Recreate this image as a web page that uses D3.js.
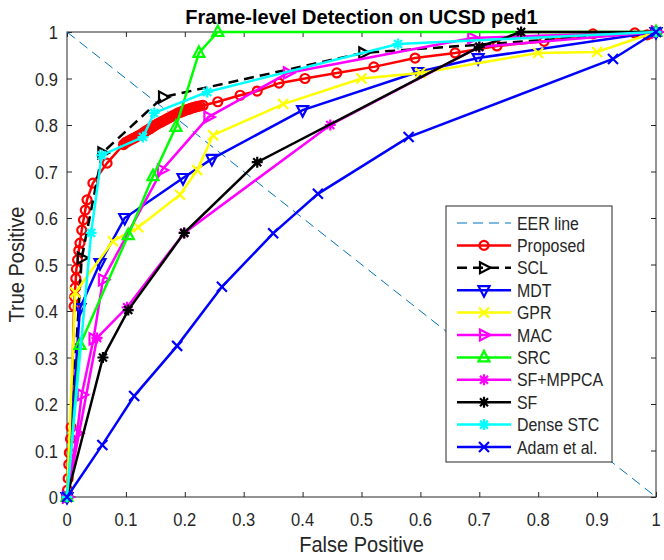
<!DOCTYPE html>
<html>
<head>
<meta charset="utf-8">
<script src="https://cdn.jsdelivr.net/npm/d3@7"></script>
<style>
  body { margin: 0; background: #fff; }
  svg text { font-family: "Liberation Sans", Arial, sans-serif; fill: #262626; }
</style>
</head>
<body>
<svg id="chart" width="664" height="560"></svg>
<script>
// ROC points, [false positive, true positive]
var proposed = [[0,0],[0.001,0.015],[0.002,0.04],[0.003,0.07],[0.004,0.095],[0.006,0.125],[0.007,0.15],
  [0.012,0.41],[0.013,0.43],[0.014,0.45],[0.015,0.47],[0.016,0.49],[0.018,0.51],[0.02,0.53],[0.022,0.546],
  [0.025,0.574],[0.028,0.596],[0.031,0.617],[0.034,0.639],[0.044,0.675],[0.068,0.718],
  [0.096,0.758],[0.099,0.762],[0.102,0.764],[0.105,0.766],[0.108,0.768],[0.111,0.77],[0.114,0.772],
  [0.117,0.774],[0.12,0.776],[0.123,0.778],[0.126,0.78],[0.129,0.783],[0.132,0.785],[0.135,0.788],
  [0.138,0.79],[0.141,0.792],[0.144,0.795],[0.147,0.797],[0.15,0.8],[0.153,0.802],[0.156,0.804],
  [0.159,0.806],[0.162,0.808],[0.165,0.81],[0.168,0.812],[0.171,0.814],[0.174,0.816],[0.177,0.818],
  [0.18,0.82],[0.183,0.822],[0.186,0.824],[0.189,0.826],[0.192,0.827],[0.195,0.829],[0.198,0.83],
  [0.201,0.832],[0.204,0.833],[0.207,0.834],[0.21,0.836],[0.213,0.837],[0.216,0.838],[0.219,0.839],
  [0.222,0.84],[0.226,0.841],[0.231,0.842],[0.256,0.85],[0.294,0.864],[0.323,0.873],[0.36,0.89],[0.404,0.90],
  [0.458,0.912],[0.521,0.925],[0.591,0.944],[0.659,0.955],[0.73,0.97],[0.81,0.98],[0.893,0.996],
  [0.964,0.998],[0.985,0.994],[1,1]];
var scl = [[0,0],[0.025,0.514],[0.06,0.74],[0.163,0.86],[0.503,0.955],[1,1]];
var mdt = [[0,0],[0.022,0.406],[0.056,0.503],[0.098,0.6],[0.197,0.686],[0.246,0.727],[0.40,0.832],
  [0.596,0.914],[0.698,0.944],[1,1]];
var gpr = [[0,0],[0.014,0.44],[0.078,0.55],[0.121,0.58],[0.192,0.65],[0.221,0.703],[0.248,0.778],
  [0.367,0.845],[0.50,0.90],[0.60,0.912],[0.80,0.955],[0.90,0.957],[1,1]];
var mac = [[0,0],[0.017,0.137],[0.025,0.22],[0.045,0.34],[0.061,0.467],[0.161,0.703],[0.24,0.817],
  [0.375,0.912],[0.688,0.987],[1,1]];
var src = [[0,0],[0.022,0.327],[0.104,0.563],[0.146,0.69],[0.185,0.796],[0.224,0.955],[0.256,1],[1,1]];
var sfMppca = [[0,0],[0.051,0.342],[0.102,0.408],[0.199,0.568],[0.447,0.8],[0.70,0.968],[1,1]];
var sf = [[0,0],[0.061,0.3],[0.104,0.402],[0.199,0.568],[0.323,0.72],[0.70,0.968],[0.771,1],[1,1]];
var denseStc = [[0,0],[0.041,0.568],[0.059,0.735],[0.129,0.774],[0.148,0.826],[0.238,0.871],[0.562,0.974],[1,1]];
var adam = [[0,0],[0.06,0.112],[0.114,0.217],[0.187,0.325],[0.263,0.452],[0.35,0.567],[0.426,0.652],
  [0.58,0.774],[0.927,0.942],[1,1]];
var eer = [[0,1],[1,0]];

var tickValues = [0,0.1,0.2,0.3,0.4,0.5,0.6,0.7,0.8,0.9,1];

// name, data, colour, marker, dashed
var series = [
  {name: "Proposed",   data: proposed, color: "#ff0000", marker: "o"},
  {name: "SCL",        data: scl,      color: "#000000", marker: ">", dash: true},
  {name: "MDT",        data: mdt,      color: "#0000ff", marker: "v"},
  {name: "GPR",        data: gpr,      color: "#ffff00", marker: "x"},
  {name: "MAC",        data: mac,      color: "#ff00ff", marker: ">"},
  {name: "SRC",        data: src,      color: "#00ff00", marker: "^"},
  {name: "SF+MPPCA",   data: sfMppca,  color: "#ff00ff", marker: "*"},
  {name: "SF",         data: sf,       color: "#000000", marker: "*"},
  {name: "Dense STC",  data: denseStc, color: "#00ffff", marker: "*"},
  {name: "Adam et al.",data: adam,     color: "#0000ff", marker: "x"}
];

// marker path for each MATLAB style symbol
function markerPath(m)
{
  if(m == "o") return "M4.5,0A4.5,4.5 0 1,1 -4.5,0A4.5,4.5 0 1,1 4.5,0Z";
  if(m == "^") return "M0,-6.5L5.5,4L-5.5,4Z";
  if(m == "v") return "M0,6.5L5.5,-4L-5.5,-4Z";
  if(m == ">") return "M6.5,0L-4,-5.5L-4,5.5Z";
  if(m == "x") return "M-5,-5L5,5M-5,5L5,-5";
  if(m == "*") return "M-5.5,0L5.5,0M0,-5.5L0,5.5M-4,-4L4,4M-4,4L4,-4";
}

// text squeezed sideways a little, like the exported figure
function addText(parent, px, py, str, size, sx, anchor)
{
  return parent.append("text")
    .attr("transform", "translate(" + px + "," + py + ") scale(" + sx + ",1)")
    .attr("text-anchor", anchor || "start")
    .attr("font-size", size)
    .text(str);
}

function drawChart()
{
  var svg = d3.select("#chart");
  var pLeft = 67, pRight = 656, pTop = 32, pBottom = 497;
  var axisColor = "#262626";

  var x = d3.scaleLinear().domain([0,1]).range([pLeft, pRight]);
  var y = d3.scaleLinear().domain([0,1]).range([pBottom, pTop]);

  // axes box with inward ticks on all sides
  svg.append("rect").attr("x", pLeft).attr("y", pTop)
    .attr("width", pRight - pLeft).attr("height", pBottom - pTop)
    .attr("fill", "none").attr("stroke", axisColor).attr("stroke-width", 1);

  var axes = [
    svg.append("g").attr("transform", "translate(0," + pBottom + ")")
      .call(d3.axisBottom(x).tickValues(tickValues).tickSizeInner(-5).tickSizeOuter(0).tickFormat("")),
    svg.append("g").attr("transform", "translate(" + pLeft + ",0)")
      .call(d3.axisLeft(y).tickValues(tickValues).tickSizeInner(-5).tickSizeOuter(0).tickFormat("")),
    svg.append("g").attr("transform", "translate(0," + pTop + ")")
      .call(d3.axisTop(x).tickValues(tickValues).tickSizeInner(-5).tickSizeOuter(0).tickFormat("")),
    svg.append("g").attr("transform", "translate(" + pRight + ",0)")
      .call(d3.axisRight(y).tickValues(tickValues).tickSizeInner(-5).tickSizeOuter(0).tickFormat(""))
  ];
  axes.forEach(function(g)
  {
    g.select(".domain").remove();
    g.selectAll("line").attr("stroke", axisColor);
  });

  // tick labels
  var fmt = d3.format("");
  var labels = svg.append("g");
  tickValues.forEach(function(t)
  {
    addText(labels, x(t), pBottom + 29, fmt(t), 19, 0.87, "middle");
    addText(labels, pLeft - 9, y(t) + 7, fmt(t), 19, 0.87, "end");
  });

  var line = d3.line().x(function(d){ return x(d[0]); }).y(function(d){ return y(d[1]); });

  // EER diagonal
  svg.append("path").datum(eer).attr("d", line)
    .attr("fill", "none").attr("stroke", "#0072bd").attr("stroke-width", 1)
    .attr("stroke-dasharray", "10,6");

  series.forEach(function(s)
  {
    svg.append("path").datum(s.data).attr("d", line)
      .attr("fill", "none").attr("stroke", s.color).attr("stroke-width", 2.5)
      .attr("stroke-dasharray", s.dash ? "10,6" : null);
    svg.append("g").selectAll("path").data(s.data).enter().append("path")
      .attr("transform", function(d){ return "translate(" + x(d[0]) + "," + y(d[1]) + ")"; })
      .attr("d", markerPath(s.marker))
      .attr("fill", "none").attr("stroke", s.color).attr("stroke-width", 2.2);
  });

  // title and axis labels
  addText(svg, (pLeft + pRight) / 2, 24, "Frame-level Detection on UCSD ped1", 20, 1.0, "middle")
    .attr("font-weight", "bold").style("fill", "#000");
  addText(svg, (pLeft + pRight) / 2, 552, "False Positive", 22, 0.91, "middle");
  svg.append("text")
    .attr("transform", "translate(24," + ((pTop + pBottom) / 2) + ") rotate(-90) scale(0.91,1)")
    .attr("text-anchor", "middle").attr("font-size", 22).text("True Positive");

  // legend
  var lx = 446, ly = 206, lw = 166, lh = 256, rowH = 22.4;
  var legend = svg.append("g");
  legend.append("rect").attr("x", lx).attr("y", ly).attr("width", lw).attr("height", lh)
    .attr("fill", "#fff").attr("stroke", axisColor).attr("stroke-width", 1);

  var legendItems = [{name: "EER line", color: "#0072bd", eer: true}].concat(series);
  legendItems.forEach(function(s, i)
  {
    var cy = ly + 17 + i * rowH;
    legend.append("line").attr("x1", lx + 11).attr("x2", lx + 65).attr("y1", cy).attr("y2", cy)
      .attr("stroke", s.color).attr("stroke-width", s.eer ? 1 : 2.5)
      .attr("stroke-dasharray", (s.eer || s.dash) ? "10,6" : null);
    if(!s.eer)
      legend.append("path").attr("transform", "translate(" + (lx + 38) + "," + cy + ")")
        .attr("d", markerPath(s.marker)).attr("fill", "none").attr("stroke", s.color).attr("stroke-width", 2.2);
    addText(legend, lx + 71, cy + 6.5, s.name, 18.5, 0.86, "start");
  });
}

drawChart();
</script>
</body>
</html>
